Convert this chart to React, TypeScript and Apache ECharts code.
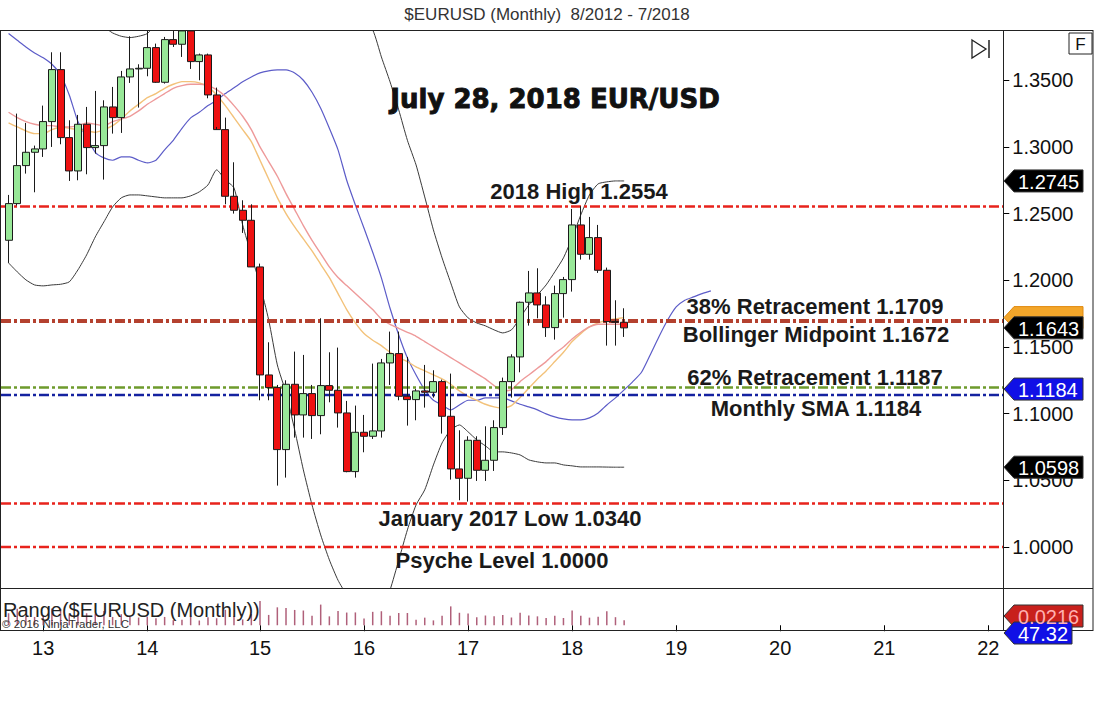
import React, { useEffect, useRef } from "react";
import * as echarts from "echarts";

// ---------- categories (months, Aug 2012 onward) ----------
const START_YEAR = 2012;
const START_MONTH = 8;
const CATEGORY_COUNT = 115;
const categories: string[] = Array.from({ length: CATEGORY_COUNT }, (_, i) => {
  const m = START_MONTH - 1 + i;
  const y = START_YEAR + Math.floor(m / 12);
  const mm = (m % 12) + 1;
  return `${y}-${String(mm).padStart(2, "0")}`;
});
// where the year labels sit on the time axis, and their texts
const yearTickMonths = ["2012-12", "2013-12", "2015-01", "2016-01", "2017-01", "2018-01", "2019-01", "2020-01", "2021-01", "2022-01"];
const yearTickLabels = ["13", "14", "15", "16", "17", "18", "19", "20", "21", "22"];

// ---------- monthly OHLC, 8/2012 - 7/2018 ----------
const opens = [
  1.2300, 1.2575, 1.2860, 1.2960, 1.2985, 1.3190, 1.3580, 1.3070, 1.2820, 1.3170, 1.2995, 1.3010,
  1.3300, 1.3220, 1.3525, 1.3585, 1.3590, 1.3745, 1.3485, 1.3805, 1.3770, 1.3870, 1.3640, 1.3690,
  1.3390, 1.3130, 1.2630, 1.2525, 1.2450, 1.2100, 1.1290, 1.1195, 1.0730, 1.1220, 1.0990, 1.1150,
  1.0985, 1.1210, 1.1175, 1.1005, 1.0565, 1.0860, 1.0830, 1.0870, 1.1380, 1.1450, 1.1130, 1.1105,
  1.1170, 1.1160, 1.1240, 1.0980, 1.0585, 1.0515, 1.0800, 1.0575, 1.0650, 1.0895, 1.1240, 1.1425,
  1.1835, 1.1905, 1.1815, 1.1645, 1.1900, 1.2005, 1.2415, 1.2195, 1.2320, 1.2075, 1.1690, 1.1685,
];
const highs = [
  1.2640, 1.3250, 1.3180, 1.3010, 1.3310, 1.3710, 1.3710, 1.3200, 1.3240, 1.3300, 1.3420, 1.3350,
  1.3450, 1.3570, 1.3830, 1.3620, 1.3895, 1.3775, 1.3825, 1.3965, 1.3905, 1.3995, 1.3700, 1.3700,
  1.3445, 1.3220, 1.2885, 1.2600, 1.2570, 1.2125, 1.1535, 1.1215, 1.1250, 1.1465, 1.1440, 1.1215,
  1.1715, 1.1460, 1.1495, 1.1095, 1.1060, 1.0990, 1.1375, 1.1410, 1.1615, 1.1615, 1.1425, 1.1185,
  1.1365, 1.1325, 1.1255, 1.1300, 1.0875, 1.0830, 1.0830, 1.0905, 1.0950, 1.1270, 1.1445, 1.1840,
  1.2070, 1.2090, 1.1880, 1.1960, 1.2025, 1.2535, 1.2555, 1.2475, 1.2415, 1.2095, 1.1850, 1.1790,
];
const lows = [
  1.2130, 1.2560, 1.2800, 1.2660, 1.2925, 1.3000, 1.3020, 1.2745, 1.2750, 1.2795, 1.2950, 1.2755,
  1.3100, 1.3105, 1.3480, 1.3295, 1.3530, 1.3480, 1.3475, 1.3750, 1.3675, 1.3585, 1.3500, 1.3365,
  1.3150, 1.2570, 1.2500, 1.2355, 1.2100, 1.1100, 1.1100, 1.0460, 1.0520, 1.0820, 1.0820, 1.0810,
  1.0845, 1.1085, 1.0895, 1.0560, 1.0520, 1.0710, 1.0810, 1.0820, 1.1215, 1.1100, 1.0910, 1.0950,
  1.1045, 1.1120, 1.0850, 1.0505, 1.0350, 1.0340, 1.0495, 1.0495, 1.0570, 1.0840, 1.1120, 1.1310,
  1.1660, 1.1715, 1.1575, 1.1555, 1.1720, 1.1915, 1.2155, 1.2155, 1.2055, 1.1510, 1.1510, 1.1575,
];
const closes = [
  1.2575, 1.2860, 1.2960, 1.2985, 1.3190, 1.3580, 1.3070, 1.2820, 1.3170, 1.2995, 1.3010, 1.3300,
  1.3220, 1.3525, 1.3585, 1.3590, 1.3745, 1.3485, 1.3805, 1.3770, 1.3870, 1.3640, 1.3690, 1.3390,
  1.3130, 1.2630, 1.2525, 1.2450, 1.2100, 1.1290, 1.1195, 1.0730, 1.1220, 1.0990, 1.1150, 1.0985,
  1.1210, 1.1175, 1.1005, 1.0565, 1.0860, 1.0830, 1.0870, 1.1380, 1.1450, 1.1130, 1.1105, 1.1170,
  1.1160, 1.1240, 1.0980, 1.0585, 1.0515, 1.0800, 1.0575, 1.0650, 1.0895, 1.1240, 1.1425, 1.1835,
  1.1905, 1.1815, 1.1645, 1.1900, 1.2005, 1.2415, 1.2195, 1.2320, 1.2075, 1.1690, 1.1685, 1.1643,
];

// ---------- indicator lines ----------
const upperBand = [
  1.420, 1.418, 1.415, 1.412, 1.410, 1.408, 1.405, 1.402, 1.399, 1.396, 1.393, 1.390,
  1.3855, 1.383, 1.382, 1.383, 1.385, 1.392, 1.396, 1.400, 1.404, 1.408, 1.410, 1.412,
  1.414, 1.416, 1.418, 1.420, 1.421, 1.422, 1.422, 1.421, 1.420, 1.418, 1.416, 1.414,
  1.412, 1.410, 1.405, 1.400, 1.396, 1.392, 1.3877, 1.3675, 1.3488, 1.3278, 1.305, 1.2865,
  1.2625, 1.2378, 1.2168, 1.198, 1.180, 1.1718, 1.168, 1.1658, 1.1628, 1.1605, 1.1628, 1.1718,
  1.1815, 1.189, 1.1965, 1.2063, 1.2168, 1.2318, 1.249, 1.264, 1.2723, 1.2738, 1.2745, 1.2745,
];
const lowerBand = [
  1.213, 1.2063, 1.2003, 1.1965, 1.1958, 1.1965, 1.197, 1.1988, 1.2078, 1.219, 1.2325, 1.2438,
  1.255, 1.2618, 1.264, 1.264, 1.2633, 1.2625, 1.2618, 1.2618, 1.2618, 1.2633, 1.2663, 1.2715,
  1.2828, 1.2753, 1.2693, 1.2415, 1.219, 1.1965, 1.1703, 1.1365, 1.1155, 1.0878, 1.0578, 1.0315,
  1.009, 0.9903, 0.975, 0.964, 0.955, 0.950, 0.948, 0.952, 0.9678, 0.990, 1.0128, 1.0315,
  1.0428, 1.0615, 1.078, 1.0878, 1.0915, 1.0863, 1.0803, 1.0758, 1.0713, 1.0713, 1.0705, 1.069,
  1.0653, 1.0638, 1.063, 1.063, 1.0615, 1.0608, 1.060, 1.060, 1.060, 1.0599, 1.0598, 1.0598,
];
const midBand = [
  1.326, 1.322, 1.319, 1.317, 1.316, 1.316, 1.315, 1.315, 1.316, 1.318, 1.317, 1.316,
  1.319, 1.321, 1.323, 1.327, 1.332, 1.336, 1.340, 1.344, 1.346, 1.347, 1.347, 1.346,
  1.343, 1.338, 1.331, 1.323, 1.313, 1.300, 1.289, 1.278, 1.265, 1.253, 1.241, 1.230,
  1.220, 1.210, 1.202, 1.196, 1.190, 1.184, 1.178, 1.171, 1.167, 1.164, 1.161, 1.158,
  1.154, 1.150, 1.146, 1.142, 1.138, 1.134, 1.130, 1.126, 1.121, 1.117, 1.118, 1.124,
  1.129, 1.134, 1.139, 1.145, 1.150, 1.156, 1.161, 1.165, 1.167, 1.167, 1.167, 1.1672,
];
const fastAverage = [
  1.318, 1.315, 1.312, 1.310, 1.310, 1.313, 1.315, 1.314, 1.313, 1.312, 1.311, 1.313,
  1.316, 1.321, 1.327, 1.332, 1.337, 1.340, 1.344, 1.347, 1.349, 1.349, 1.348, 1.345,
  1.339, 1.331, 1.322, 1.313, 1.304, 1.290, 1.276, 1.262, 1.250, 1.240, 1.231, 1.222,
  1.212, 1.202, 1.190, 1.178, 1.168, 1.160, 1.155, 1.151, 1.146, 1.142, 1.139, 1.135,
  1.132, 1.129, 1.126, 1.122, 1.117, 1.113, 1.110, 1.107, 1.105, 1.104, 1.106, 1.112,
  1.119, 1.126, 1.132, 1.139, 1.146, 1.154, 1.160, 1.165, 1.168, 1.170, 1.171, 1.172,
];
const shiftedSma = [
  1.385, 1.380, 1.375, 1.3705, 1.3668, 1.362, 1.354, 1.339, 1.319, 1.307, 1.296, 1.2918,
  1.290, 1.2925, 1.2925, 1.290, 1.288, 1.290, 1.2978, 1.305, 1.314, 1.3218, 1.326, 1.331,
  1.335, 1.340, 1.3443, 1.3488, 1.3525, 1.3555, 1.357, 1.3578, 1.3578, 1.3555, 1.350, 1.341,
  1.329, 1.314, 1.2978, 1.275, 1.2565, 1.239, 1.221, 1.2018, 1.179, 1.159, 1.1418, 1.129,
  1.1178, 1.110, 1.1065, 1.1028, 1.1065, 1.110, 1.110, 1.1118, 1.1118, 1.1118, 1.1095, 1.107,
  1.105, 1.1028, 1.0998, 1.0975, 1.096, 1.0953, 1.0953, 1.0968, 1.1005, 1.1065, 1.1118, 1.1178,
  1.124, 1.131, 1.144, 1.1575, 1.170, 1.180, 1.185, 1.1875, 1.190, 1.192,
];

// ---------- horizontal levels ----------
const levelValues = [1.2554, 1.1695, 1.1195, 1.1140, 1.0325, 1.0000];
const levelColors = ["#e8231c", "#b4412f", "#6e9b2c", "#1422a0", "#e8231c", "#e8231c"];
const levelWidths = [2.5, 4, 2.5, 2.5, 2.5, 2.5];

const annotationTexts = [
  "2018 High 1.2554",
  "38% Retracement 1.1709",
  "Bollinger Midpoint 1.1672",
  "62% Retracement 1.1187",
  "Monthly SMA 1.1184",
  "January 2017 Low 1.0340",
  "Psyche Level 1.0000",
];
const annotationCenters: [number, number][] = [
  [579, 191], [815, 306], [816, 334], [815, 377], [816, 408], [510, 518], [502, 560],
];

const yTickValues = [1.0, 1.05, 1.1, 1.15, 1.2, 1.25, 1.3, 1.35];

// price tags on the right axis
const tagValues = [1.2745, 1.1690, 1.1643, 1.1184, 1.0598];
const tagColors = ["#000000", "#f3a62a", "#000000", "#1010e6", "#000000"];
const tagLabels = ["1.2745", "", "1.1643", "1.1184", "1.0598"];

const rangeValues = highs.map((h, i) => +(h - lows[i]).toFixed(4));

const GRID_LEFT = 4.23;
const GRID_RIGHT = 92.7;
const FONT = "'Liberation Sans', Arial, sans-serif";

function tag(x0: number, x1: number, yc: number, color: string, label: string, textColor = "#fff", stroke = "#333") {
  const h = 11;
  const out: any[] = [
    {
      type: "polygon",
      shape: { points: [[x0, yc], [x0 + 10, yc - h], [x1, yc - h], [x1, yc + h], [x0 + 10, yc + h]] },
      style: { fill: color, stroke, lineWidth: 1 },
      z: 100,
    },
  ];
  if (label) {
    out.push({
      type: "text",
      x: x0 + 14,
      y: yc + 1,
      style: { text: label, fill: textColor, font: `20px ${FONT}`, textVerticalAlign: "middle" },
      z: 101,
    });
  }
  return out;
}

export default function App() {
  const ref = useRef<HTMLDivElement>(null);
  useEffect(() => {
    if (!ref.current) return;
    const chart = echarts.init(ref.current, undefined, { renderer: "svg" });
    const candleData = opens.map((o, i) => [o, closes[i], lows[i], highs[i]]);
    const isYearTick = (_i: number, v: string) => yearTickMonths.indexOf(v) >= 0;

    chart.setOption({
      animation: false,
      backgroundColor: "#ffffff",
      grid: [
        { left: GRID_LEFT, right: GRID_RIGHT, top: 30, height: 558 },
        { left: GRID_LEFT, right: GRID_RIGHT, top: 592, height: 38 },
      ],
      xAxis: [
        {
          type: "category", gridIndex: 0, data: categories, boundaryGap: true,
          axisLine: { show: false }, axisTick: { show: false }, axisLabel: { show: false }, splitLine: { show: false },
        },
        {
          type: "category", gridIndex: 1, data: categories, boundaryGap: true,
          axisLine: { show: false },
          axisTick: { show: true, interval: isYearTick, alignWithLabel: true, length: 6, lineStyle: { color: "#000" } },
          axisLabel: {
            show: true, interval: isYearTick,
            formatter: (v: string) => yearTickLabels[yearTickMonths.indexOf(v)] ?? "",
            fontSize: 20, color: "#111", fontFamily: FONT, margin: 8,
          },
          splitLine: { show: false },
        },
      ],
      yAxis: [
        {
          type: "value", gridIndex: 0, position: "right", offset: 2, min: 0.9692, max: 1.3877, scale: true,
          axisLine: { show: false },
          axisTick: { show: true, length: 6, customValues: yTickValues, lineStyle: { color: "#000" } },
          axisLabel: {
            show: true, customValues: yTickValues, formatter: (v: number) => v.toFixed(4),
            fontSize: 20, color: "#111", fontFamily: FONT, margin: 9,
          },
          splitLine: { show: false },
        },
        {
          type: "value", gridIndex: 1, position: "right", min: -0.02, max: 0.14, show: false,
          splitLine: { show: false },
        },
      ],
      series: [
        {
          type: "line", name: "shifted SMA", xAxisIndex: 0, yAxisIndex: 0, data: shiftedSma,
          showSymbol: false, smooth: 0.2, lineStyle: { color: "#5c5cc8", width: 1.2 }, z: 2,
        },
        {
          type: "line", name: "fast", xAxisIndex: 0, yAxisIndex: 0, data: fastAverage,
          showSymbol: false, smooth: 0.2, lineStyle: { color: "#f3c27a", width: 1.4 }, z: 2,
        },
        {
          type: "line", name: "mid", xAxisIndex: 0, yAxisIndex: 0, data: midBand,
          showSymbol: false, smooth: 0.2, lineStyle: { color: "#ee9a9a", width: 1.4 }, z: 2,
        },
        {
          type: "line", name: "upper", xAxisIndex: 0, yAxisIndex: 0, data: upperBand,
          showSymbol: false, smooth: 0.2, lineStyle: { color: "#3a3a3a", width: 1 }, z: 3,
        },
        {
          type: "line", name: "lower", xAxisIndex: 0, yAxisIndex: 0, data: lowerBand,
          showSymbol: false, smooth: 0.2, lineStyle: { color: "#3a3a3a", width: 1 }, z: 3,
        },
        {
          type: "candlestick", name: "EURUSD", xAxisIndex: 0, yAxisIndex: 0, data: candleData,
          barWidth: 7.5, clip: true,
          itemStyle: { color: "#98e898", color0: "#ee1111", borderColor: "#1a1a1a", borderColor0: "#1a1a1a", borderWidth: 1 },
          z: 5,
        },
        {
          type: "bar", name: "Range", xAxisIndex: 1, yAxisIndex: 1, data: rangeValues,
          barWidth: 1.5, itemStyle: { color: "#b0607a" },
        },
      ],
    });

    const py = (v: number) => chart.convertToPixel({ yAxisIndex: 0 }, v) as number;
    const graphics: any[] = [];
    // white cover above the price panel (clips wicks that run off the top)
    graphics.push({ type: "rect", shape: { x: 0, y: 0, width: 1094, height: 30 }, style: { fill: "#fff" }, z: 40 });
    // horizontal levels
    levelValues.forEach((v, i) => {
      const y = py(v);
      graphics.push({
        type: "line", shape: { x1: 1, y1: y, x2: 1003, y2: y },
        style: { stroke: levelColors[i], lineWidth: levelWidths[i], lineDash: [10, 3, 3, 3] },
        z: 4,
      });
    });
    // frame
    graphics.push(
      { type: "line", shape: { x1: 0, y1: 30.5, x2: 1093, y2: 30.5 }, style: { stroke: "#222", lineWidth: 1.2 }, z: 50 },
      { type: "line", shape: { x1: 0.5, y1: 30, x2: 0.5, y2: 631 }, style: { stroke: "#222", lineWidth: 1 }, z: 50 },
      { type: "line", shape: { x1: 1093, y1: 30, x2: 1093, y2: 631 }, style: { stroke: "#222", lineWidth: 1 }, z: 50 },
      { type: "line", shape: { x1: 0, y1: 588.5, x2: 1093, y2: 588.5 }, style: { stroke: "#222", lineWidth: 1 }, z: 50 },
      { type: "line", shape: { x1: 0, y1: 630.5, x2: 1093, y2: 630.5 }, style: { stroke: "#222", lineWidth: 1 }, z: 50 },
      { type: "line", shape: { x1: 1003.5, y1: 30, x2: 1003.5, y2: 631 }, style: { stroke: "#222", lineWidth: 1 }, z: 50 },
    );
    // title
    graphics.push({
      type: "text", x: 547, y: 14,
      style: { text: "$EURUSD (Monthly)  8/2012 - 7/2018", fill: "#333", font: `17px ${FONT}`, textAlign: "center", textVerticalAlign: "middle" },
      z: 60,
    });
    // big headline
    graphics.push({
      type: "text", x: 555, y: 99,
      style: {
        text: "July 28, 2018 EUR/USD", fill: "#111", stroke: "#111", lineWidth: 0.9,
        font: `bold 26px 'DejaVu Sans', sans-serif`, textAlign: "center", textVerticalAlign: "middle",
      },
      z: 60,
    });
    annotationTexts.forEach((t, i) => {
      graphics.push({
        type: "text", x: annotationCenters[i][0], y: annotationCenters[i][1],
        style: { text: t, fill: "#1a1a1a", font: `bold 22px ${FONT}`, textAlign: "center", textVerticalAlign: "middle" },
        z: 60,
      });
    });
    // F box and scroll-to-end icon
    graphics.push(
      { type: "rect", shape: { x: 1069, y: 33, width: 23, height: 21 }, style: { fill: "#fff", stroke: "#222", lineWidth: 1 }, z: 60 },
      { type: "text", x: 1080.5, y: 44, style: { text: "F", fill: "#111", font: `17px ${FONT}`, textAlign: "center", textVerticalAlign: "middle" }, z: 61 },
      { type: "polygon", shape: { points: [[972, 40], [986, 49], [972, 58]] }, style: { fill: "none", stroke: "#222", lineWidth: 1.3 }, z: 60 },
      { type: "line", shape: { x1: 989, y1: 40, x2: 989, y2: 58 }, style: { stroke: "#222", lineWidth: 1.5 }, z: 60 },
    );
    // price tags
    tagValues.forEach((v, i) => {
      const yc = i === 1 ? py(v) - 4 : py(v);
      graphics.push(...tag(1004, 1083, yc, tagColors[i], tagLabels[i], "#fff", i === 1 ? "#e08a10" : "#333"));
    });
    // lower panel
    graphics.push(
      { type: "text", x: 3, y: 610, style: { text: "Range($EURUSD (Monthly))", fill: "#222", font: `20px ${FONT}`, textVerticalAlign: "middle" }, z: 60 },
      { type: "text", x: 2, y: 624, style: { text: "© 2016 NinjaTrader, LLC", fill: "#333", font: `11.5px ${FONT}`, textVerticalAlign: "middle" }, z: 60 },
    );
    graphics.push(...tag(1004, 1083, 616, "#c8201c", "0.0216", "#ffb0b0"));
    graphics.push(...tag(1004, 1072, 633, "#1010e6", "47.32", "#fff"));

    chart.setOption({ graphic: graphics });
    return () => chart.dispose();
  }, []);
  return <div ref={ref} style={{ position: "fixed", left: 0, top: 0, width: 1094, height: 710 }} />;
}
